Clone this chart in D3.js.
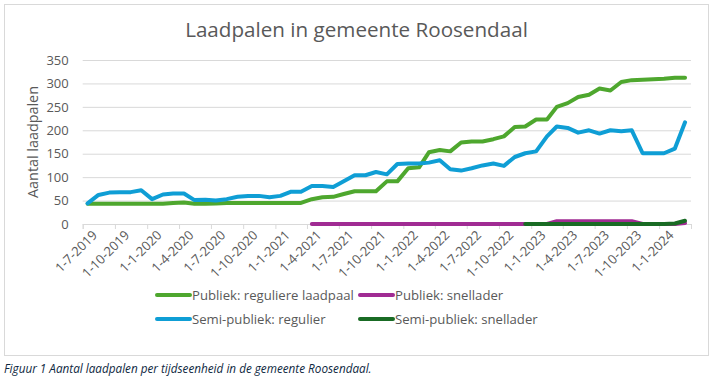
<!DOCTYPE html>
<html><head><meta charset="utf-8">
<script src="https://cdn.jsdelivr.net/npm/d3@7"></script>
<style>
html,body{margin:0;padding:0;background:#fff;}
svg{display:block;}
</style></head>
<body>
<svg id="chart" width="713" height="376"></svg>
<script>
// ---------- DATA ----------
const months = [
 "2019-07","2019-08","2019-09","2019-10","2019-11","2019-12",
 "2020-01","2020-02","2020-03","2020-04","2020-05","2020-06",
 "2020-07","2020-08","2020-09","2020-10","2020-11","2020-12",
 "2021-01","2021-02","2021-03","2021-04","2021-05","2021-06",
 "2021-07","2021-08","2021-09","2021-10","2021-11","2021-12",
 "2022-01","2022-02","2022-03","2022-04","2022-05","2022-06",
 "2022-07","2022-08","2022-09","2022-10","2022-11","2022-12",
 "2023-01","2023-02","2023-03","2023-04","2023-05","2023-06",
 "2023-07","2023-08","2023-09","2023-10","2023-11","2023-12",
 "2024-01","2024-02","2024-03"
];
const publiekRegulier = [
 43,43,43,43,43,43, 43,43,45,46,43,43, 44,45,45,45,45,45,
 45,45,45,53,57,58, 64,70,70,70,91,91, 119,121,153,158,155,174,
 176,176,181,187,207,208, 223,223,250,258,271,276, 289,285,303,307,308,309,
 310,312,312
];
const publiekSnel = [
 null,null,null,null,null,null, null,null,null,null,null,null, null,null,null,null,null,null,
 null,null,null,0,0,0, 0,0,0,0,0,0, 0,0,0,0,0,0,
 0,0,0,0,0,0, 0,0,6,6,6,6, 6,6,6,6,0,0,
 0,0,2
];
const semiRegulier = [
 44,62,67,68,68,72, 53,63,65,65,51,52, 50,53,58,60,60,57,
 60,69,69,81,81,79, 91,104,104,111,106,128, 129,129,131,136,117,114,
 119,125,129,124,143,151, 155,187,208,205,195,200, 193,200,198,200,151,151,
 151,161,217
];
const semiSnel = [
 null,null,null,null,null,null, null,null,null,null,null,null, null,null,null,null,null,null,
 null,null,null,null,null,null, null,null,null,null,null,null, null,null,null,null,null,null,
 null,null,null,null,null,0, 0,0,0,0,0,0, 0,0,0,0,0,0,
 0,1,7
];
const seriesNames = ["Publiek: reguliere laadpaal","Publiek: snellader","Semi-publiek: regulier","Semi-publiek: snellader"];
const seriesColors = ["#4EA72E","#A02B93","#0F9ED5","#196B24"];
const yTicks = [0,50,100,150,200,250,300,350];
const xTickDates = ["2019-07-01","2019-10-01","2020-01-01","2020-04-01","2020-07-01","2020-10-01",
 "2021-01-01","2021-04-01","2021-07-01","2021-10-01","2022-01-01","2022-04-01","2022-07-01",
 "2022-10-01","2023-01-01","2023-04-01","2023-07-01","2023-10-01","2024-01-01","2024-04-01"];
const titleText = "Laadpalen in gemeente Roosendaal";
const yTitle = "Aantal laadpalen";
const caption = "Figuur 1 Aantal laadpalen per tijdseenheid in de gemeente Roosendaal.";

(function () {
// ---------- LAYOUT ----------
const svg = d3.select("#chart");
const FONT = "'Open Sans', 'Noto Sans', sans-serif";
const TXT = "#595959";
const pL = 82.7, pR = 691, pT = 60, pB = 224;

const parseM = d3.timeParse("%Y-%m");
const parseD = d3.timeParse("%Y-%m-%d");
const dates = months.map(m => d3.timeDay.offset(parseM(m), 14));
const tickDates = xTickDates.map(parseD);

const x = d3.scaleTime().domain([tickDates[0], tickDates[tickDates.length-1]]).range([pL, pR]);
const y = d3.scaleLinear().domain([0, 350]).range([pB, pT]);

function fit(sel, target) {
  const n = sel.node();
  const w = n.getComputedTextLength();
  const fs = parseFloat(sel.attr("font-size"));
  if (w > 0) sel.attr("font-size", (fs * target / w).toFixed(2));
  return parseFloat(sel.attr("font-size"));
}

// chart border
svg.append("rect").attr("x", 4.5).attr("y", 4.5).attr("width", 704).attr("height", 351)
  .attr("fill", "#fff").attr("stroke", "#d9d9d9").attr("stroke-width", 1);

// title
const t = svg.append("text").attr("x", 356.5).attr("y", 37).attr("text-anchor", "middle")
  .attr("font-family", FONT).attr("font-size", 19).attr("fill", TXT).text(titleText);
fit(t, 343);

// gridlines + y labels
const yAxis = d3.axisLeft(y).tickValues(yTicks).tickSize(-(pR-pL)).tickPadding(14);
const gy = svg.append("g").attr("transform", `translate(${pL},0)`).call(yAxis);
gy.select(".domain").remove();
gy.selectAll(".tick line").attr("stroke", "#d9d9d9").attr("stroke-width", 1);
gy.selectAll(".tick text").attr("fill", TXT).attr("font-family", FONT).attr("font-size", 13);

// x axis
const xAxis = d3.axisBottom(x).tickValues(tickDates).tickSize(5).tickFormat(d3.timeFormat("%-d-%-m-%Y"));
const gx = svg.append("g").attr("transform", `translate(0,${pB})`).call(xAxis);
gx.select(".domain").attr("stroke", "#d9d9d9");
gx.selectAll(".tick line").attr("stroke", "#d9d9d9");
gx.selectAll(".tick text")
  .attr("fill", TXT).attr("font-family", FONT).attr("font-size", 13)
  .attr("text-anchor", "end")
  .attr("transform", "translate(6,3) rotate(-45)")
  .attr("x", 0).attr("y", 8).attr("dy", "0.35em")
  .filter((d, i) => i === tickDates.length - 1).remove();

// y title
const yt = svg.append("text").attr("transform", "translate(38,142) rotate(-90)")
  .attr("text-anchor", "middle").attr("font-family", FONT).attr("font-size", 14)
  .attr("fill", TXT).text(yTitle);
fit(yt, 112);

// lines
const allSeries = [publiekRegulier, publiekSnel, semiRegulier, semiSnel];
const line = d3.line().defined(d => d[1] !== null).x(d => x(d[0])).y(d => y(d[1]));
allSeries.forEach((vals, k) => {
  const pts = dates.map((d, i) => [d, vals[i]]);
  svg.append("path").attr("d", line(pts)).attr("fill", "none")
    .attr("stroke", seriesColors[k]).attr("stroke-width", 4)
    .attr("stroke-linejoin", "round").attr("stroke-linecap", "round");
});

// legend
const legPos = [[157, 295], [360, 295], [157, 319], [360, 319]];
let legFs = 12.5;
seriesNames.forEach((name, k) => {
  const [lx, ly] = legPos[k];
  svg.append("line").attr("x1", lx).attr("x2", lx + 33).attr("y1", ly).attr("y2", ly)
    .attr("stroke", seriesColors[k]).attr("stroke-width", 4).attr("stroke-linecap", "round");
  const lt = svg.append("text").attr("x", lx + 35).attr("y", ly).attr("dy", "0.35em")
    .attr("font-family", FONT).attr("font-size", legFs).attr("fill", TXT).text(name);
  if (k === 0) legFs = fit(lt, 162);
});

// caption
const c = svg.append("text").attr("x", 4).attr("y", 373)
  .attr("font-family", FONT).attr("font-style", "italic").attr("font-size", 10.5)
  .attr("fill", "#0E2841").text(caption);
fit(c, 368);
})();
</script>
</body></html>
